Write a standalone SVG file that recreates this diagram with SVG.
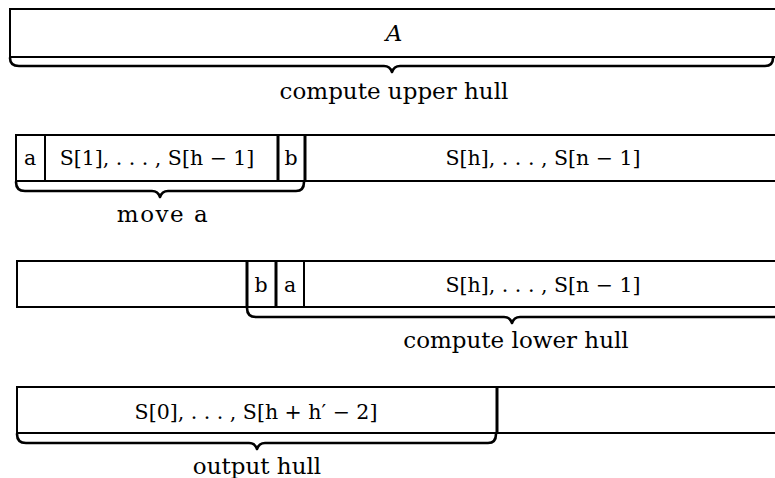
<svg xmlns="http://www.w3.org/2000/svg" width="775" height="478" viewBox="0 0 775 478">
<style>
.box{fill:none;stroke:#000;stroke-width:2}
.div{stroke:#000;stroke-width:2}
.thick{stroke:#000;stroke-width:3}
.brace{fill:none;stroke:#000;stroke-width:2.6;stroke-linejoin:round;stroke-linecap:round}
text{font-family:"DejaVu Serif","Liberation Serif",serif;font-size:20.5px;fill:#000;text-anchor:middle}
.m{font-style:italic;font-size:23px}
.lbl{font-size:23px}
</style>
<rect width="775" height="478" fill="#fff"/>
<g id="row1">
<rect class="box" x="10" y="9" width="770" height="48"/>
<text class="m" x="394" y="41">A</text>
</g>
<g id="row2">
<rect class="box" x="16" y="135" width="765" height="46"/>
<line class="div" x1="45" y1="135" x2="45" y2="181"/>
<line class="thick" x1="278" y1="135" x2="278" y2="181"/>
<line class="thick" x1="305" y1="135" x2="305" y2="181"/>
<text x="30" y="165">a</text>
<text x="157" y="165">S[1], . . . , S[h − 1]</text>
<text x="291" y="165">b</text>
<text x="543" y="165">S[h], . . . , S[n − 1]</text>
</g>
<g id="row3">
<rect class="box" x="17" y="261" width="765" height="46"/>
<line class="thick" x1="247" y1="261" x2="247" y2="307"/>
<line class="thick" x1="276" y1="261" x2="276" y2="307"/>
<line class="div" x1="304" y1="261" x2="304" y2="307"/>
<text x="261" y="292">b</text>
<text x="290" y="292">a</text>
<text x="543" y="292">S[h], . . . , S[n − 1]</text>
</g>
<g id="row4">
<rect class="box" x="17" y="387" width="765" height="46"/>
<line class="thick" x1="497" y1="387" x2="497" y2="433"/>
<text x="256" y="419">S[0], . . . , S[h + h′ − 2]</text>
</g>
<g id="connectors">
<path class="brace" d="M10 58 q0 8 9 8 H384 q6 0 8 6 q2 -6 8 -6 H765 q8 0 8 -8"/>
<path class="brace" d="M16 182 q0 9 9 9 H152 q6 0 8 6 q2 -6 8 -6 H296 q8 0 8 -9"/>
<path class="brace" d="M247 308 q0 9 9 9 H504 q6 0 8 6 q2 -6 8 -6 H776"/>
<path class="brace" d="M17 434 q0 9 9 9 H249 q6 0 8 6 q2 -6 8 -6 H488 q8 0 8 -9"/>
</g>
<g id="labels">
<text class="lbl" x="394" y="99">compute upper hull</text>
<text class="lbl" x="163" y="222" letter-spacing="1.5">move a</text>
<text class="lbl" x="516" y="348">compute lower hull</text>
<text class="lbl" x="257" y="474">output hull</text>
</g>
</svg>
